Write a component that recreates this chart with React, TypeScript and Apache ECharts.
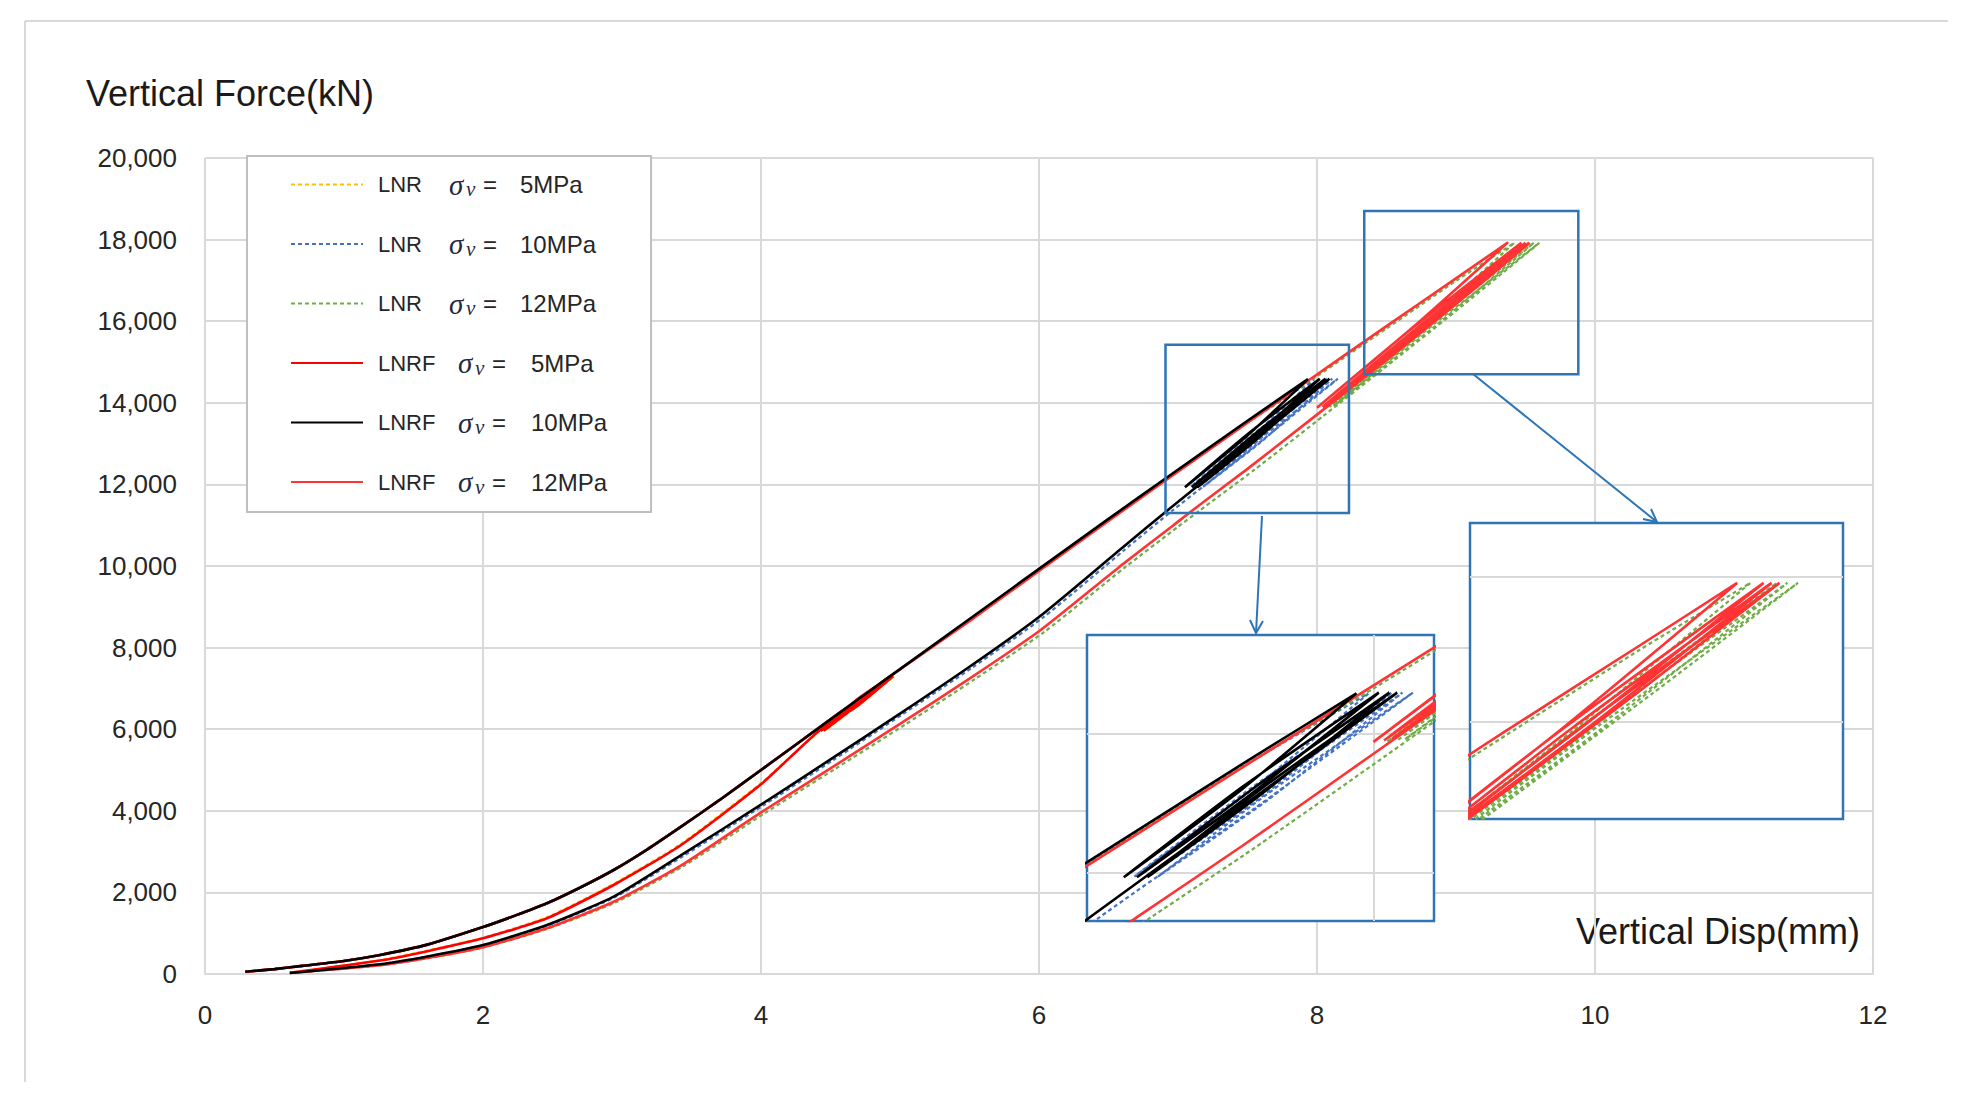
import React, { useEffect, useRef } from "react";
import * as echarts from "echarts";

// ---------- axis ticks ----------
const X_MIN = 0;
const X_MAX = 12;
const X_STEP = 2;
const Y_MIN = 0;
const Y_MAX = 20000;
const Y_STEP = 2000;

// ---------- legend ----------
const SERIES_NAMES = ["LNR 5", "LNR 10", "LNR 12", "LNRF 5", "LNRF 10", "LNRF 12"];
const SERIES_COLORS = ["#FFC000", "#4472C4", "#70AD47", "#FF0000", "#000000", "#FF3333"];
const SERIES_DOTTED = [true, true, true, false, false, false];
// drawing order (last on top)
const DRAW_ORDER = [0, 1, 2, 3, 5, 4];

// ---------- zoom windows ----------
// rectangles marked on the main chart
const BOX_A_X = [6.91, 8.23];
const BOX_A_Y = [11300, 15420];
const BOX_B_X = [8.34, 9.88];
const BOX_B_Y = [14700, 18700];
// data ranges shown in the two insets
const ZOOM_A_X = [6.91, 8.23];
const ZOOM_A_Y = [11300, 15420];
const ZOOM_A_GRID_X = [8];
const ZOOM_A_GRID_Y = [12000, 14000];
const ZOOM_B_X = [8.36, 9.77];
const ZOOM_B_Y = [14650, 18750];
const ZOOM_B_GRID_Y = [16000, 18000];

// ---------- data: [disp mm, force kN] ----------
// shared loading branch
const LOAD_LOW = [
  [0.29, 56], [0.5, 120], [0.7, 200], [1.0, 320], [1.26, 466], [1.6, 720], [2.0, 1150],
  [2.23, 1430], [2.46, 1733], [2.7, 2120], [2.94, 2549], [3.18, 3050], [3.42, 3600],
  [3.7, 4260], [4.0, 5000],
];
const LOAD_MID = [[4.5, 6240], [4.93, 7300]];
const LOAD_HIGH = [[5.5, 8700], [6.0, 9930], [6.51, 11180], [6.92, 12170], [7.5, 13560], [7.935, 14580]];
const LOAD_HIGH_R12 = [[5.5, 8650], [6.0, 9880], [6.51, 11130], [6.92, 12120], [7.5, 13510], [7.935, 14540]];
const LOAD_TOP = [[8.5, 15880], [9.0, 17050], [9.37, 17920]];
const LOAD_HIGH_LNR = [[5.5, 8690], [6.0, 9915], [6.51, 11160], [6.92, 12140], [7.5, 13520]];
const LOAD_TOP_LNR12 = [[8.0, 14650], [8.5, 15820], [9.0, 16990], [9.42, 17920]];

// 5 MPa
const CYC_LNRF5 = [
  [4.65, 6500], [4.43, 5960], [4.70, 6750], [4.94, 7300], [4.67, 6530], [4.45, 5960],
  [4.72, 6780], [4.95, 7300], [4.68, 6540], [4.41, 5940],
];
const UNL_LNRF5 = [
  [4.0, 4650], [3.42, 3150], [2.94, 2181], [2.46, 1365], [2.0, 874], [1.6, 560], [1.26, 330], [0.61, 30],
];
const CYC_LNR5 = [
  [4.66, 6510], [4.44, 5970], [4.71, 6760], [4.95, 7305], [4.68, 6540], [4.46, 5970],
  [4.73, 6790], [4.96, 7305], [4.69, 6550], [4.42, 5950],
];
const UNL_LNR5 = [
  [4.0, 4680], [3.42, 3180], [2.94, 2210], [2.46, 1390], [2.0, 890], [1.6, 575], [1.26, 340], [0.62, 32],
];

// 10 MPa
const CYC_LNRF10 = [
  [7.5, 13200], [7.05, 11930], [7.5, 13230], [8.02, 14590], [7.5, 13030], [7.10, 11930],
  [7.55, 13230], [8.06, 14590], [7.55, 13060], [7.14, 11930], [7.6, 13280], [8.09, 14590],
];
const UNL_LNRF10 = [
  [7.5, 12950], [6.93, 11380], [6.58, 10392], [6.0, 8750], [5.5, 7530], [5.0, 6380], [4.5, 5260],
  [4.0, 4150], [3.42, 2900], [2.94, 1895], [2.46, 1201], [2.0, 711], [1.6, 430], [1.26, 240], [0.61, 25],
];
const CYC_LNR10 = [
  [7.98, 14575], [7.54, 13200], [7.09, 11940], [7.54, 13230], [8.07, 14590], [7.55, 13020],
  [7.14, 11940], [7.6, 13230], [8.11, 14590], [7.6, 13050], [7.18, 11940], [7.65, 13280], [8.15, 14590],
];
const UNL_LNR10 = [
  [7.55, 12930], [6.96, 11360], [6.61, 10380], [6.03, 8740], [5.52, 7510], [5.02, 6370], [4.52, 5245],
  [4.02, 4140], [3.44, 2890], [2.95, 1885], [2.47, 1195], [2.0, 705], [1.6, 425], [1.26, 238], [0.62, 25],
];

// 12 MPa
const CYC_LNRF12 = [
  [8.7, 15880], [8.00, 13880], [8.7, 15870], [9.47, 17920], [8.75, 15830], [8.04, 13900],
  [8.75, 15920], [9.50, 17920], [8.8, 15900], [8.07, 13920], [8.8, 15980], [9.53, 17920],
];
const UNL_LNRF12 = [
  [9.0, 16420], [8.5, 15050], [8.0, 13710], [7.5, 12380], [7.11, 11380], [6.96, 10980], [6.58, 9984],
  [6.0, 8400], [5.5, 7240], [5.0, 6130], [4.5, 5040], [4.0, 3960], [3.42, 2650], [2.94, 1772],
  [2.46, 1120], [2.0, 654], [1.6, 390], [1.26, 215], [0.61, 25],
];
const CYC_LNR12 = [
  [8.75, 15880], [8.05, 13880], [8.75, 15850], [9.52, 17920], [8.8, 15850], [8.09, 13900],
  [8.8, 15900], [9.56, 17920], [8.85, 15880], [8.12, 13920], [8.85, 15950], [9.60, 17920],
];
const UNL_LNR12 = [
  [9.05, 16390], [8.55, 15030], [8.05, 13690], [7.55, 12360], [7.16, 11370], [7.0, 10960], [6.62, 9970],
  [6.04, 8390], [5.54, 7230], [5.04, 6120], [4.53, 5020], [4.03, 3950], [3.44, 2640], [2.96, 1765],
  [2.47, 1115], [2.0, 648], [1.6, 386], [1.26, 213], [0.62, 25],
];

const SERIES_DATA = [
  [...LOAD_LOW, ...LOAD_MID, ...CYC_LNR5, ...UNL_LNR5],
  [...LOAD_LOW, ...LOAD_MID, ...LOAD_HIGH_LNR, ...CYC_LNR10, ...UNL_LNR10],
  [...LOAD_LOW, ...LOAD_MID, ...LOAD_HIGH_LNR, ...LOAD_TOP_LNR12, ...CYC_LNR12, ...UNL_LNR12],
  [...LOAD_LOW, ...LOAD_MID, ...CYC_LNRF5, ...UNL_LNRF5],
  [...LOAD_LOW, ...LOAD_MID, ...LOAD_HIGH, ...CYC_LNRF10, ...UNL_LNRF10],
  [...LOAD_LOW, ...LOAD_MID, ...LOAD_HIGH_R12, ...LOAD_TOP, ...CYC_LNRF12, ...UNL_LNRF12],
];

const FONT = "'Liberation Sans', Arial, sans-serif";
const SERIF = "'Liberation Serif', 'Times New Roman', serif";
const GRID_GRAY = "#D9D9D9";
const BOX_BLUE = "#2E75B6";
const TEXT = "#262626";

function buildOption() {
  const series: any[] = [];
  // inset grid lines (drawn under inset data)
  series.push({
    type: "line", xAxisIndex: 1, yAxisIndex: 1, data: [], silent: true, z: 2,
    markLine: {
      silent: true, symbol: "none", z: 2, animation: false,
      label: { show: false },
      lineStyle: { color: GRID_GRAY, width: 2, type: "solid" },
      data: [...ZOOM_A_GRID_X.map((v) => ({ xAxis: v })), ...ZOOM_A_GRID_Y.map((v) => ({ yAxis: v }))],
    },
  });
  series.push({
    type: "line", xAxisIndex: 2, yAxisIndex: 2, data: [], silent: true, z: 2,
    markLine: {
      silent: true, symbol: "none", z: 2, animation: false,
      label: { show: false },
      lineStyle: { color: GRID_GRAY, width: 2, type: "solid" },
      data: ZOOM_B_GRID_Y.map((v) => ({ yAxis: v })),
    },
  });
  for (let g = 0; g < 3; g++) {
    DRAW_ORDER.forEach((i) => {
      series.push({
        name: SERIES_NAMES[i],
        type: "line",
        xAxisIndex: g,
        yAxisIndex: g,
        data: SERIES_DATA[i],
        symbol: "none",
        showSymbol: false,
        smooth: 0.2,
        clip: true,
        silent: true,
        z: g === 0 ? 2 : 3,
        color: SERIES_COLORS[i],
        lineStyle: {
          color: SERIES_COLORS[i],
          width: SERIES_DOTTED[i] ? 2.2 : 2.6,
          type: SERIES_DOTTED[i] ? [4, 3] : "solid",
        },
        emphasis: { disabled: true },
      });
    });
  }
  // zoom windows drawn on the main chart
  series.push({
    type: "line", xAxisIndex: 0, yAxisIndex: 0, data: [], silent: true,
    markArea: {
      silent: true, z: 5,
      itemStyle: { color: "rgba(0,0,0,0)", borderColor: BOX_BLUE, borderWidth: 2.5 },
      data: [
        [{ xAxis: BOX_A_X[0], yAxis: BOX_A_Y[0] }, { xAxis: BOX_A_X[1], yAxis: BOX_A_Y[1] }],
        [{ xAxis: BOX_B_X[0], yAxis: BOX_B_Y[0] }, { xAxis: BOX_B_X[1], yAxis: BOX_B_Y[1] }],
      ],
    },
  });

  const insetAxis = (gi: number, range: number[]) => ({
    type: "value", gridIndex: gi, min: range[0], max: range[1], show: false, z: 1,
  });

  const rich = {
    g: { width: 10, fontSize: 22, lineHeight: 30 },
    a: { width: 71, fontSize: 22, fontFamily: FONT, color: TEXT, lineHeight: 30 },
    b: { width: 80, fontSize: 22, fontFamily: FONT, color: TEXT, lineHeight: 30 },
    s: { width: 17, fontSize: 29, fontFamily: SERIF, fontStyle: "italic", color: "#1F2A44", lineHeight: 30 },
    v: { width: 17, fontSize: 21, fontFamily: SERIF, fontStyle: "italic", color: "#1F2A44", lineHeight: 14, verticalAlign: "bottom" },
    e: { width: 37, fontSize: 24, fontFamily: FONT, color: TEXT, lineHeight: 30 },
    f: { width: 39, fontSize: 24, fontFamily: FONT, color: TEXT, lineHeight: 30 },
    m: { fontSize: 24, fontFamily: FONT, color: TEXT, lineHeight: 30 },
  };

  return {
    animation: false,
    backgroundColor: "#ffffff",
    textStyle: { fontFamily: FONT },
    grid: [
      { left: 205, top: 158, width: 1668, height: 816, containLabel: false },
      { left: 1087, top: 635, width: 347, height: 286, show: true, backgroundColor: "#ffffff", borderColor: BOX_BLUE, borderWidth: 2.5, z: 1 },
      { left: 1470, top: 523, width: 373, height: 296, show: true, backgroundColor: "#ffffff", borderColor: BOX_BLUE, borderWidth: 2.5, z: 1 },
    ],
    xAxis: [
      {
        type: "value", gridIndex: 0, min: X_MIN, max: X_MAX, interval: X_STEP,
        axisLine: { show: true, lineStyle: { color: GRID_GRAY, width: 2 } },
        axisTick: { show: false },
        axisLabel: { fontSize: 26, color: TEXT, margin: 28, fontFamily: FONT },
        splitLine: { show: true, lineStyle: { color: GRID_GRAY, width: 2 } },
      },
      insetAxis(1, ZOOM_A_X),
      insetAxis(2, ZOOM_B_X),
    ],
    yAxis: [
      {
        type: "value", gridIndex: 0, min: Y_MIN, max: Y_MAX, interval: Y_STEP,
        axisLine: { show: false },
        axisTick: { show: false },
        axisLabel: {
          fontSize: 26, color: TEXT, margin: 28, fontFamily: FONT,
          formatter: (v: number) => v.toLocaleString("en-US"),
        },
        splitLine: { show: true, lineStyle: { color: GRID_GRAY, width: 2 } },
      },
      insetAxis(1, ZOOM_A_Y),
      insetAxis(2, ZOOM_B_Y),
    ],
    legend: {
      data: SERIES_NAMES,
      orient: "vertical",
      left: 247,
      top: 156,
      padding: [14, 44, 15, 43],
      itemGap: 30,
      itemWidth: 72,
      itemHeight: 14,
      backgroundColor: "#ffffff",
      borderColor: "#BFBFBF",
      borderWidth: 2,
      selectedMode: false,
      itemStyle: { opacity: 0 },
      textStyle: { fontFamily: FONT, fontSize: 22, color: TEXT, rich },
      formatter: (name: string) => {
        const [kind, val] = name.split(" ");
        const k = kind === "LNR" ? "a" : "b";
        const eq = kind === "LNR" ? "e" : "f";
        return `{g| }{${k}|${kind}}{s|σ}{v|v}{${eq}|=}{m|${val}MPa}`;
      },
    },
    graphic: [
      { type: "line", shape: { x1: 25, y1: 21, x2: 1948, y2: 21 }, style: { stroke: GRID_GRAY, lineWidth: 2 }, silent: true },
      { type: "line", shape: { x1: 25, y1: 21, x2: 25, y2: 1082 }, style: { stroke: GRID_GRAY, lineWidth: 2 }, silent: true },
      {
        type: "text", left: 86, top: 75, silent: true,
        style: { text: "Vertical Force(kN)", fontSize: 36, fontFamily: FONT, fill: "#1a1a1a" },
      },
      {
        type: "text", left: 1576, top: 913, silent: true,
        style: { text: "Vertical Disp(mm)", fontSize: 36, fontFamily: FONT, fill: "#1a1a1a" },
      },
      // arrows from the zoom windows to the insets
      { type: "line", shape: { x1: 1262, y1: 516, x2: 1256, y2: 633 }, style: { stroke: BOX_BLUE, lineWidth: 2 }, silent: true, z: 10 },
      { type: "polyline", shape: { points: [[1263, 621], [1256, 633], [1250, 620]] }, style: { stroke: BOX_BLUE, lineWidth: 2, fill: "none" }, silent: true, z: 10 },
      { type: "line", shape: { x1: 1473, y1: 374, x2: 1657, y2: 522 }, style: { stroke: BOX_BLUE, lineWidth: 2 }, silent: true, z: 10 },
      { type: "polyline", shape: { points: [[1651, 509], [1657, 522], [1643, 519]] }, style: { stroke: BOX_BLUE, lineWidth: 2, fill: "none" }, silent: true, z: 10 },
    ],
    series,
  };
}

export default function App() {
  const ref = useRef<HTMLDivElement>(null);
  useEffect(() => {
    if (!ref.current) return;
    const chart = echarts.init(ref.current, null, { renderer: "svg" });
    chart.setOption(buildOption() as any);
    return () => chart.dispose();
  }, []);
  return (
    <div
      ref={ref}
      style={{ position: "fixed", left: 0, top: 0, width: 1969, height: 1106, background: "#ffffff" }}
    />
  );
}
